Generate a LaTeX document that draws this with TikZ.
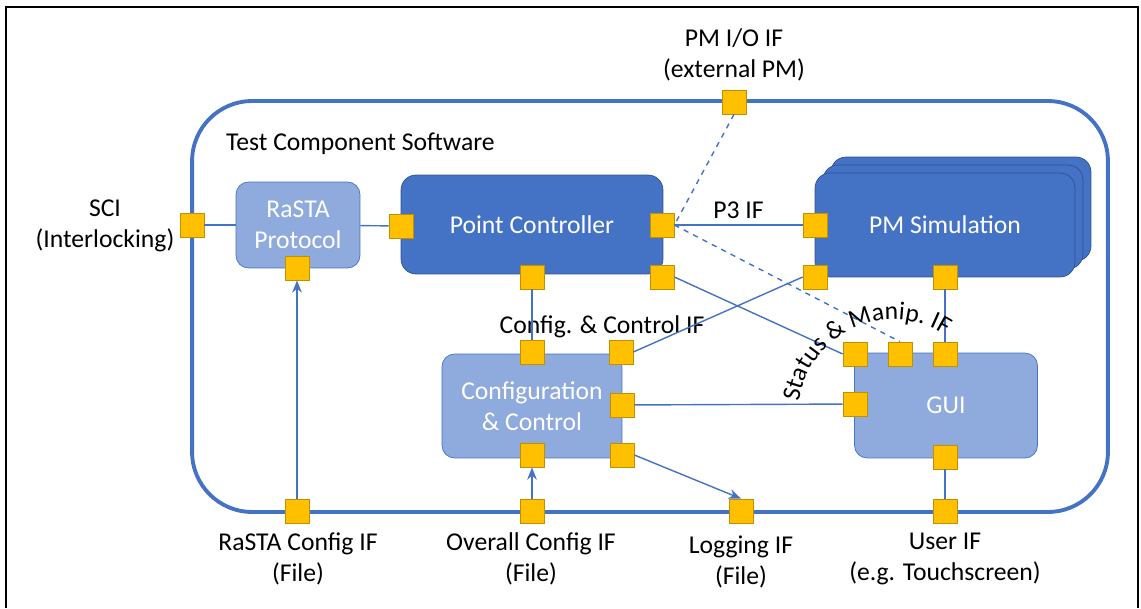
\documentclass[tikz,border=0pt]{standalone}
\usepackage{fontspec}
\setmainfont{Carlito}
\usetikzlibrary{positioning, arrows.meta, decorations.text}
\definecolor{ifblue}{HTML}{4472C4}
\definecolor{ifdark}{HTML}{2F528F}
\definecolor{iflight}{HTML}{8FAADC}
\definecolor{ifport}{HTML}{FFC000}
\definecolor{ifportline}{HTML}{BF9000}
\newcommand{\labelsize}{\fontsize{14.6}{17.5}\selectfont}
\tikzset{
>={Stealth[length=7pt, width=5.5pt]}, % small sharp arrow heads
font=\labelsize, % one text size for the whole figure
port/.style={rectangle, fill=ifport, draw=ifportline, minimum size=0.48cm, inner sep=0pt}, % the yellow interface squares
block/.style={rectangle, rounded corners=0.3cm, draw=ifdark, fill=ifblue, text=white, align=center}, % dark software blocks
softblock/.style={block, fill=iflight, draw=ifblue, rounded corners=0.25cm}, % light software blocks
link/.style={color=ifblue, line width=0.8pt}, % connections between the interfaces
ifname/.style={align=center, text=black}, % names of the outer interfaces
}

\begin{document}
\begin{tikzpicture}[x=0.02cm, y=-0.02cm]
            \useasboundingbox (0,0) rectangle (1141,608);
            \draw[line width=1.1pt] (6,608) -- (6,7) -- (1138,7) -- (1138,608);

            % the software boundary
            \node[draw=ifblue, line width=2.2pt, rounded corners=1.2cm, minimum width=18.32cm, minimum height=8.22cm] (tcs) at (650,306.5) {};
            \node[anchor=west] (tcsname) at (220,144) {Test Component Software};

            % blocks
            \node[softblock, minimum width=2.48cm, minimum height=1.72cm] (rasta) at (298,225) {RaSTA\\Protocol};
            \node[block, minimum width=5.24cm, minimum height=1.98cm] (pc) at (532,224.5) {Point Controller};
            \node[block, minimum width=5.2cm, minimum height=2.08cm] (pmback) at (961,209) {};
            \node[block, minimum width=5.2cm, minimum height=2.08cm] (pmmid) at (953,217) {};
            \node[block, minimum width=5.2cm, minimum height=2.08cm] (pm) at (945,225) {PM Simulation};
            \node[softblock, minimum width=3.6cm, minimum height=2.08cm] (cfg) at (532,406) {Configuration\\\& Control};
            \node[softblock, minimum width=3.66cm, minimum height=2.1cm] (gui) at (946,405.5) {GUI};

            % ports
            \node[port] (sciP) at (192,225) {};
            \node[port] (pmioP) at (734,102) {};
            \node[port] (rastaP) at (297,268) {};
            \node[port] (pcL) at (401,226) {};
            \node[port] (pcR) at (662,225) {};
            \node[port] (pcB) at (532,277) {};
            \node[port] (pcBR) at (662,277) {};
            \node[port] (pmL) at (815,225) {};
            \node[port] (pmBL) at (815,277) {};
            \node[port] (pmB) at (945,277) {};
            \node[port] (cfgT) at (532,352) {};
            \node[port] (cfgTR) at (621,352) {};
            \node[port] (cfgR) at (622,405) {};
            \node[port] (cfgB) at (532,455) {};
            \node[port] (cfgBR) at (622,455) {};
            \node[port] (guiTL) at (855,354) {};
            \node[port] (guiTM) at (900,354) {};
            \node[port] (guiTR) at (945,354) {};
            \node[port] (guiL) at (855,404) {};
            \node[port] (guiB) at (945,457) {};
            \node[port] (rastacfgP) at (297,511) {};
            \node[port] (overallP) at (532,511) {};
            \node[port] (logP) at (741,511) {};
            \node[port] (userP) at (945,511) {};

            % interface names
            \node[ifname] (sciL) at (105,226) {SCI\\(Interlocking)};
            \node[ifname] (pmioL) at (734,55) {PM I/O IF\\(external PM)};
            \node[ifname] (rastacfgL) at (298,559) {RaSTA Config IF\\(File)};
            \node[ifname] (overallL) at (531,559) {Overall Config IF\\(File)};
            \node[ifname] (logL) at (741,562) {Logging IF\\(File)};
            \node[ifname] (userL) at (945,559) {User IF\\(e.g. Touchscreen)};
            \node (cfgIF) at (602,327) {Config. \& Control IF};

            \draw[link] (sciP) edge (rasta)
                    (rasta) edge (pcL)
                    (pcR) edge node[above, text=black]{P3 IF} (pmL)
                    (pmioP.south) edge[dashed] (pcR.east)
                    (pcR.east) edge[dashed] (guiTM.north)
                    (pcB) edge (cfgT)
                    (pcBR.east) edge (guiTL.west)
                    (pmBL.west) edge (cfgTR.east)
                    (pmB) edge (guiTR)
                    (cfgR) edge (guiL)
                    (guiB) edge (userP)
                    (rastacfgP) edge[->] (rastaP)
                    (overallP) edge[->] (cfgB)
                    (cfgBR.east) edge[->] (logP.north)
                    ;

            \path[decorate, decoration={text along path, text={|\labelsize|Status {\&} Manip. IF}}]
                    (799,402) .. controls (809,332) and (889,296) .. (948,337);
        \end{tikzpicture}
\end{document}
